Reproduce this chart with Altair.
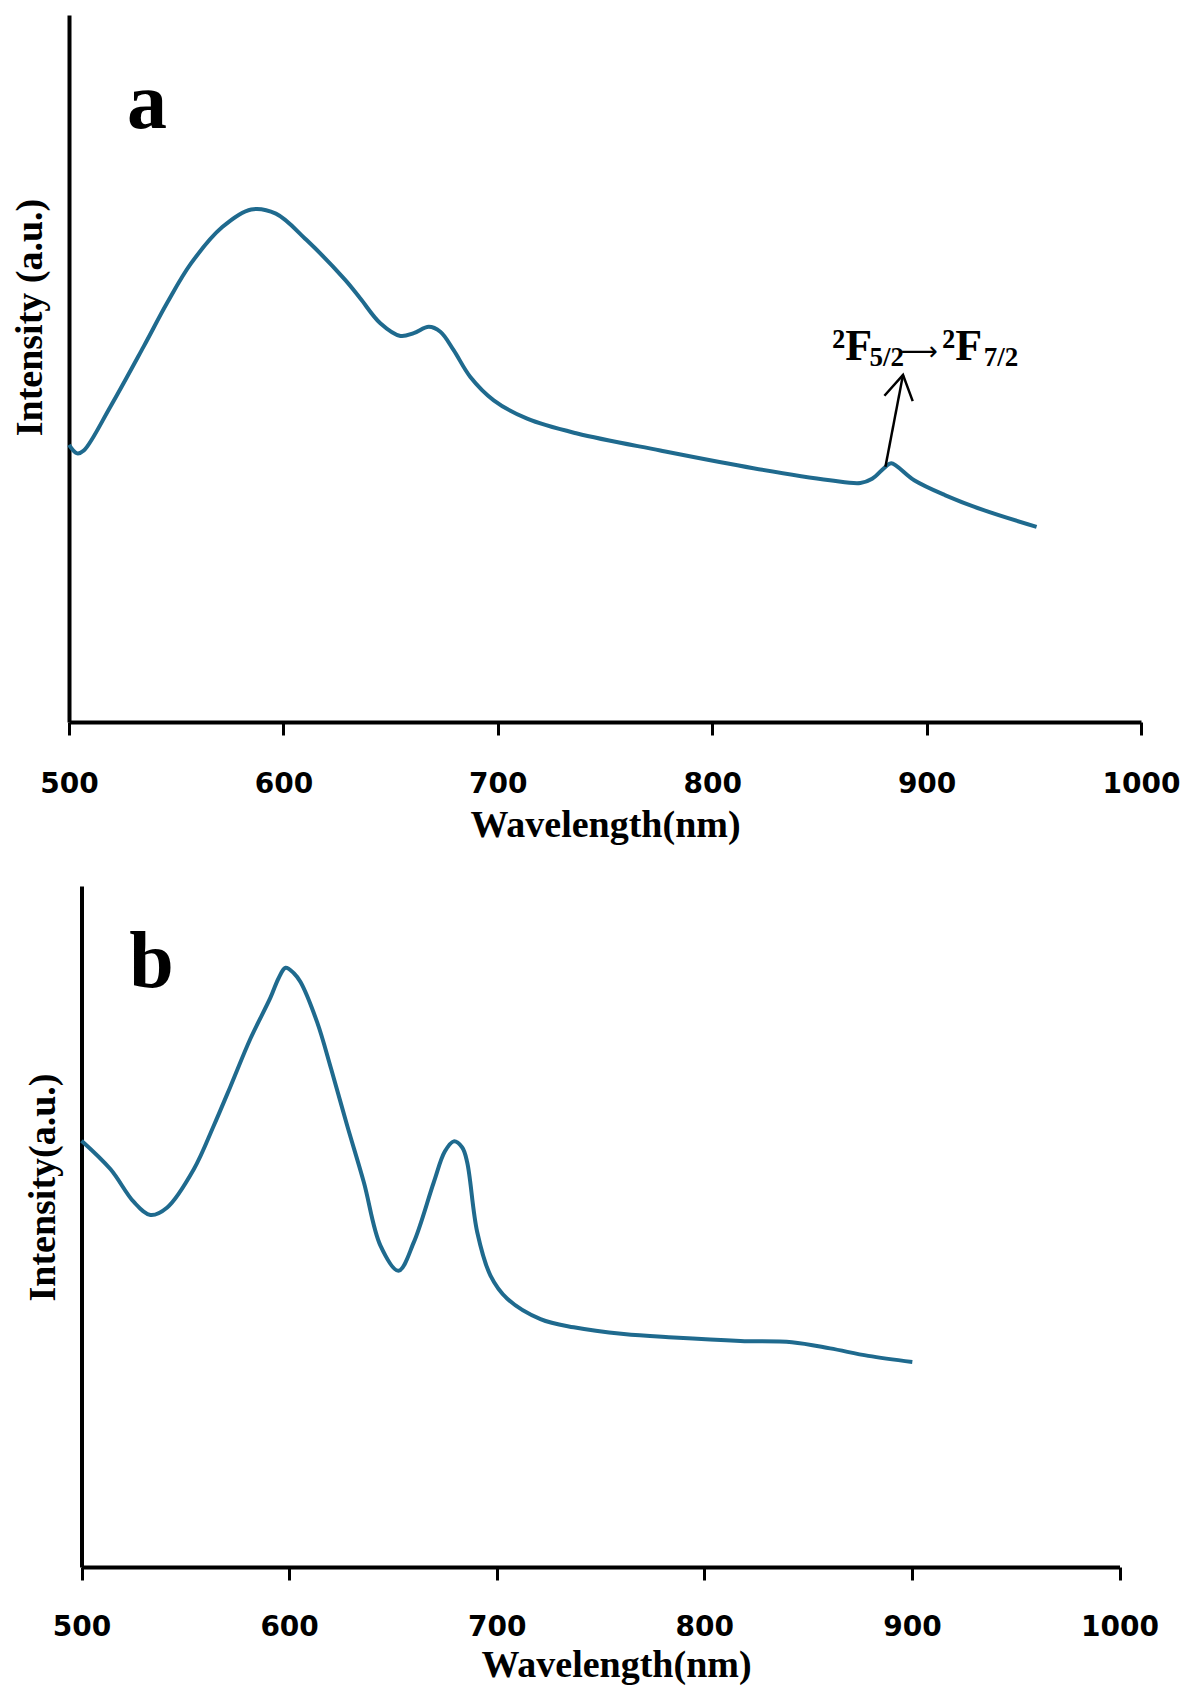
import altair as alt
import pandas as pd

# ---------------- data ----------------
X_TICKS = [500, 600, 700, 800, 900, 1000]

# panel a : wavelength (nm) / intensity (a.u., 0-100 of axis height)
WL_A = [500, 503.8, 506.9, 519.3, 534.8, 545.8, 557, 571.5, 585, 596.5, 610.7,
        628.6, 635.9, 645.2, 654.6, 660.8, 667.8, 673.2, 679.4, 687.2, 698.1,
        713.7, 737, 775.8, 819.2, 854.9, 869.1, 874.6, 880.8, 883.5, 894.2,
        908.5, 926.3, 951.3]
INT_A = [39.2, 38.0, 38.4, 44.6, 53.1, 59.3, 64.9, 70.0, 72.5, 71.9, 68.2,
         62.6, 59.9, 56.4, 54.6, 55.0, 55.9, 55.2, 52.6, 48.8, 45.5,
         42.9, 40.8, 38.4, 35.9, 34.2, 33.8, 34.4, 36.1, 36.6, 34.2,
         32.1, 30.0, 27.6]

# panel b
WL_B = [500, 514, 525.2, 533.2, 541.3, 554.1, 563.7, 571.8, 581.4, 591.0, 595.0,
        598.3, 602.3, 605.5, 613.5, 620.2, 628.0, 636.0, 644.0, 652.7, 660.1,
        669.7, 675.0, 679.3, 683.4, 685.8, 690.6, 697.0, 705.1, 721.1, 737.1,
        761.2, 785.3, 817.4, 842.2, 860.6, 879, 900.2]
INT_B = [62.6, 58.4, 53.6, 51.7, 52.8, 58.4, 64.8, 70.6, 77.6, 83.6, 86.5,
         88.0, 87.2, 85.9, 80.0, 73.2, 64.8, 56.5, 47.2, 43.5, 47.7,
         56.5, 61.0, 62.5, 61.6, 59.4, 49.2, 42.8, 39.4, 36.4, 35.2,
         34.2, 33.7, 33.2, 33.0, 32.1, 31.0, 30.1]

# annotation in panel a (data coordinates)
ARROW = {"wl": [880.8], "I": [36.1], "wl2": [889.0], "I2": [49.1]}
ANN_BIG = {"t": ["²F", "²F"], "wl": [855.9, 907.2], "I": [51.2, 51.2]}
ANN_ARR = {"t": ["⟶"], "wl": [887.8], "I": [51.2]}
ANN_SUB = {"t": ["5/2", "7/2"], "wl": [873.4, 926.6], "I": [50.3, 50.3]}
LBL_A = {"t": ["a"], "wl": [527.0], "I": [84.0]}
LBL_B = {"t": ["b"], "wl": [523.0], "I": [85.2]}

LINE_COLOR = "#1f6a8e"
SERIF = "Liberation Serif"
SANS = "DejaVu Sans"

df_a = pd.DataFrame({"wl": WL_A, "I": INT_A})
df_b = pd.DataFrame({"wl": WL_B, "I": INT_B})

xs_a = alt.Scale(domain=[500, 1000], nice=False, zero=False)
xs_b = alt.Scale(domain=[500, 1000], range=[12.5, 1050.5], nice=False, zero=False)
ys = alt.Scale(domain=[0, 100], nice=False, zero=False)


def x_axis(**kw):
    return alt.Axis(values=X_TICKS, title="Wavelength(nm)", grid=False, format="d",
                    domainColor="black", domainWidth=4, tickColor="black",
                    tickWidth=3, tickSize=13, labelFont=SANS, labelFontWeight="bold",
                    labelFontSize=28, labelColor="black", labelFlush=False,
                    titleFont=SERIF, titleFontWeight="bold", titleFontSize=38,
                    titleColor="black", **kw)


def y_axis(title, **kw):
    return alt.Axis(title=title, labels=False, ticks=False, grid=False,
                    domainColor="black", domainWidth=4, titleFont=SERIF,
                    titleFontWeight="bold", titleFontSize=38, titleColor="black", **kw)


XA_A = x_axis(labelPadding=35, titlePadding=8)
YA_A = y_axis("Intensity (a.u.)", titlePadding=20, titleY=302)
XA_B = x_axis(labelPadding=33, titlePadding=5, titleX=547)
YA_B = y_axis("Intensity(a.u.)", titlePadding=19, titleY=301, offset=-12.5)


def text_layer(data, xs, xa, ya, size, weight="bold", font=SERIF):
    return alt.Chart(pd.DataFrame(data)).mark_text(
        font=font, fontWeight=weight, fontSize=size, align="left",
        baseline="alphabetic", color="black"
    ).encode(
        x=alt.X("wl:Q", scale=xs, axis=xa),
        y=alt.Y("I:Q", scale=ys, axis=ya),
        text="t:N",
    )


# ---------------- panel a ----------------
line_a = alt.Chart(df_a).mark_line(color=LINE_COLOR, strokeWidth=4, interpolate="catmull-rom").encode(
    x=alt.X("wl:Q", scale=xs_a, axis=XA_A),
    y=alt.Y("I:Q", scale=ys, axis=YA_A),
)
arrow = alt.Chart(pd.DataFrame(ARROW)).mark_rule(color="black", strokeWidth=2.5).encode(
    x=alt.X("wl:Q", scale=xs_a, axis=XA_A), y=alt.Y("I:Q", scale=ys, axis=YA_A),
    x2="wl2:Q", y2="I2:Q",
)
head = alt.Chart(pd.DataFrame(ARROW)).mark_point(
    shape="M-0.6,1L0,0L0.6,1", filled=False, stroke="black", strokeWidth=2.5,
    size=2300, angle=10.7, opacity=1
).encode(
    x=alt.X("wl2:Q", scale=xs_a, axis=XA_A), y=alt.Y("I2:Q", scale=ys, axis=YA_A),
)
panel_a = alt.layer(
    line_a, arrow, head,
    text_layer(ANN_BIG, xs_a, XA_A, YA_A, 44),
    text_layer(ANN_ARR, xs_a, XA_A, YA_A, 26, "normal", "DejaVu Sans"),
    text_layer(ANN_SUB, xs_a, XA_A, YA_A, 27),
    text_layer(LBL_A, xs_a, XA_A, YA_A, 80),
).properties(width=1072, height=707)

# ---------------- panel b ----------------
line_b = alt.Chart(df_b).mark_line(color=LINE_COLOR, strokeWidth=4, interpolate="catmull-rom").encode(
    x=alt.X("wl:Q", scale=xs_b, axis=XA_B),
    y=alt.Y("I:Q", scale=ys, axis=YA_B),
)
panel_b = alt.layer(line_b, text_layer(LBL_B, xs_b, XA_B, YA_B, 80)).properties(width=1051, height=681)

chart = alt.vconcat(panel_a, panel_b, spacing=42).properties(
    padding={"left": 3, "top": 7, "right": 5, "bottom": 5},
    background="white",
).configure_view(stroke=None)

chart.save("out.html", embed_options={"renderer": "svg", "actions": False})
